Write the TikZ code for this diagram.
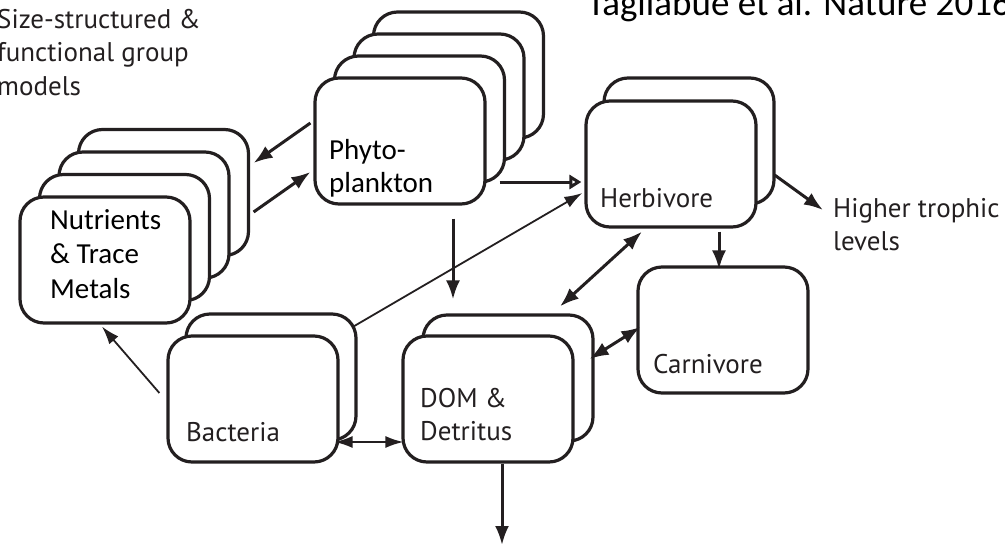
\documentclass[tikz,border=0pt]{standalone}
\usepackage{fontspec}
\setmainfont{Carlito}
\newfontfamily\myriad{PT Sans}
\usetikzlibrary{calc,arrows.meta}
\definecolor{ink}{HTML}{231F20}

\begin{document}
\begin{tikzpicture}[x=1pt,y=-1pt,
   box/.style={draw=ink,line width=3.2pt,fill=white,rounded corners=24pt,
               minimum width=170pt,minimum height=126pt,inner sep=0pt},
   lab/.style={anchor=base west,inner sep=0pt,align=left,text=ink,
               font=\myriad\fontsize{27}{33}\selectfont},
   cal/.style={anchor=base west,inner sep=0pt,align=left,
               font=\fontsize{29}{34.5}\selectfont},
   link/.style={draw=ink,line width=3pt,-{Latex[length=19pt,width=14pt]}},
   both/.style={draw=ink,line width=3pt,{Latex[length=19pt,width=14pt]}-{Latex[length=19pt,width=14pt]}},
   weaklink/.style={draw=ink,line width=1.8pt,-{Latex[length=18pt,width=12pt]}},
   weakboth/.style={draw=ink,line width=1.8pt,{Latex[length=18pt,width=12pt]}-{Latex[length=18pt,width=12pt]}}]
   \clip (0,0) rectangle (1005,547);

   % texts outside the boxes (base = last line)
   \node[cal,font=\fontsize{37}{40}\selectfont] (title) at (587,15) {Tagliabue et al. Nature 2016};
   \node[lab,font=\myriad\fontsize{27}{33.5}\selectfont] (models) at (-3,95) {Size-structured \&\\functional group\\models};

   % stacks, back to front
   \foreach \i in {3,2,1}
      \node[box] (nut\i) at ($(105,260)+\i*(19.5,-22.5)$) {};
   \node[box] (nut) at (105,260) {};
   \foreach \i in {3,2,1}
      \node[box] (phyto\i) at ($(400,141)+\i*(19.5,-22)$) {};
   \node[box] (phyto) at (400,141) {};
   \node[box] (herb1) at (689,141) {};
   \node[box] (herb) at (671,164) {};
   \node[box] (carn) at (723,330) {};
   \node[box] (dom1) at (508,378) {};
   \node[box] (dom) at (488,399) {};
   \node[box] (bact1) at (271,377) {};
   \node[box] (bact) at (253,399) {};

   \node[cal] (nuttext) at (50,298) {Nutrients\\\& Trace\\Metals};
   \node[cal,font=\fontsize{29}{33}\selectfont] (phytotext) at (329,192) {Phyto-\\plankton};
   \node[lab] (herbtext) at (600,207) {Herbivore};
   \node[lab] (carntext) at (653,373) {Carnivore};
   \node[lab] (domtext) at (420,440) {DOM \&\\Detritus};
   \node[lab] (bacttext) at (186,441) {Bacteria};
   \node[lab] (higher) at (833,250) {Higher trophic\\levels};
   \coordinate (sink) at (502,545);

   \draw[link] ($(phyto.west)+(-3,-18)$) -- ($(nut3.east)+(3.5,-29.5)$);
   \draw[link] ($(nut3.east)+(3.5,19.5)$) -- ($(phyto.west)+(-3,31)$);
   \draw[draw=ink,line width=3pt,-{Triangle[open,length=12pt,width=14pt]}]
      ($(phyto.east)+(13,41)$) -- ($(herb.west)+(-3,18)$);
   \draw[link] ($(phyto.south)+(53,13)$) -- ($(dom1.north)+(-55,-14)$);
   \draw[link] ($(herb.south)+(48,3)$) -- ($(carn.north)+(-4,4)$);
   \draw[link] ($(herb1.east)+(-1,34)$) -- ($(higher.base west)+(-10,-40)$);
   \draw[both] ($(dom1.north)+(52,-7)$) -- ($(herb.south)+(-29,3)$);
   \draw[both] ($(dom1.east)+(-5,-19)$) -- ($(carn.west)+(4,-3)$);
   \draw[link] ($(dom.south)+(14,0)$) -- (sink);
   \draw[weaklink] ($(bact.west)+(-7,-6)$) -- ($(nut.south)+(-3,2)$);
   \draw[weaklink] ($(bact1.east)+(-5,-50)$) -- ($(herb.west)+(-2,29)$);
   \draw[weakboth] ($(bact.east)+(-5,43)$) -- ($(dom.west)+(2,43)$);
\end{tikzpicture}
\end{document}
